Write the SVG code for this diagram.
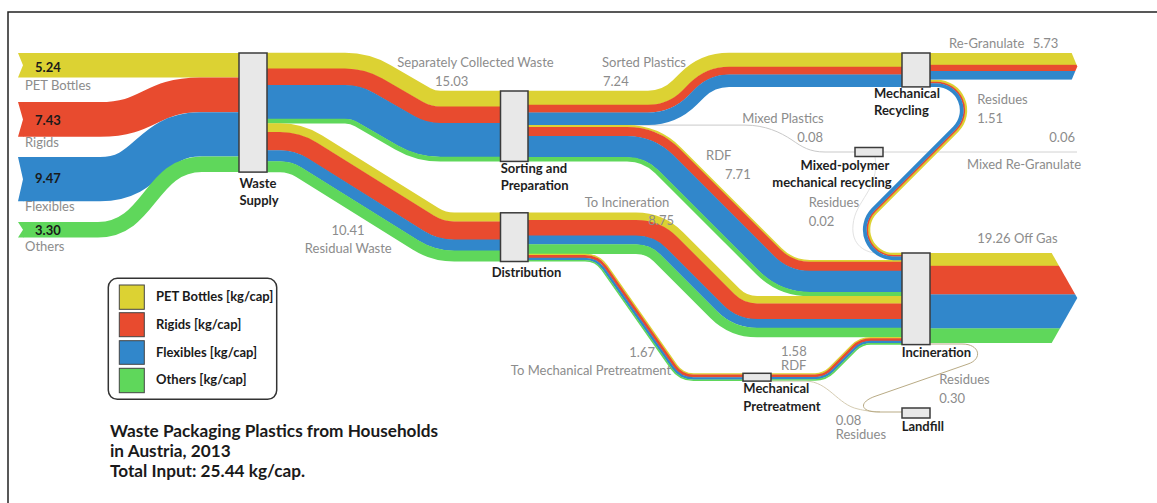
<svg xmlns="http://www.w3.org/2000/svg" width="1157" height="503" viewBox="0 0 1157 503">
<style>
.f{fill:none;stroke-linecap:butt;stroke-linejoin:round}
.y{stroke:#dcd233}.r{stroke:#e84b2f}.b{stroke:#3187cb}.g{stroke:#5fd75b}
.fy{fill:#dcd233}.fr{fill:#e84b2f}.fb{fill:#3187cb}.fg{fill:#5fd75b}
.box{fill:#e8e8e8;stroke:#3b3b3b;stroke-width:1.5}
.lbl{font-family:Lato,'Liberation Sans',sans-serif;font-size:13px;fill:#8c8c8c}
.node{font-family:Lato,'Liberation Sans',sans-serif;font-size:13px;font-weight:bold;fill:#1e1e1e}
.val{font-family:Lato,'Liberation Sans',sans-serif;font-size:13px;font-weight:bold;fill:#1a1a1a}
.thin{fill:none;stroke-width:1}
</style>
<defs>
<clipPath id="cRG"><polygon points="929,53 1071.7,53 1077.3,66.4 1071.7,79.8 929,79.8"/></clipPath>
<clipPath id="cOG"><polygon points="929,253 1051.7,253 1077.3,298.05 1051.7,343.1 929,343.1"/></clipPath>
</defs>
<rect width="1157" height="503" fill="#ffffff"/>
<path d="M8 503 V12 H1157" fill="none" stroke="#222" stroke-width="1.5"/>

<g id="connectors">
 <g id="inputs">
  <polygon class="fy" points="18,53 240,53 240,77.5 18,77.5 23,65.25"/>
  <polygon class="fr" points="18,102 24,102 24,136.8 18,136.8 23,119.4"/>
  <path class="f r" stroke-width="34.8" d="M23.5 119.4 H100 C150 119.4 150 94.9 200 94.9 H240"/>
  <polygon class="fb" points="18,157 24,157 24,201.3 18,201.3 23,179.15"/>
  <path class="f b" stroke-width="44.3" d="M23.5 179.15 H100 C150 179.15 150 134.45 200 134.45 H240"/>
  <polygon class="fg" points="18,222 24,222 24,237.4 18,237.4 23,229.7"/>
  <path class="f g" stroke-width="15.4" d="M23.5 229.7 H98 C150 229.7 150 164.3 202 164.3 H240"/>
 </g>
 <g id="separately-collected">
  <path class="f y" stroke-width="16.1" d="M267 60.85 H345 A82.55 82.55 0 0 1 386.28 71.91 L426.47 95.12 A27.85 27.85 0 0 0 440.4 98.85 H501"/>
  <path class="f r" stroke-width="17" d="M267 77 H345 A66.4 66.4 0 0 1 378.2 85.9 L418.4 109.11 A44 44 0 0 0 440.4 115 H501"/>
  <path class="f b" stroke-width="33.9" d="M267 102.05 H345 A41.35 41.35 0 0 1 365.68 107.59 L405.87 130.8 A69.05 69.05 0 0 0 440.4 140.05 H501"/>
  <path class="f g" stroke-width="4.8" d="M267 121.1 H345 A22.3 22.3 0 0 1 356.15 124.09 L396.35 147.3 A88.1 88.1 0 0 0 440.4 159.1 H501"/>
 </g>
 <g id="residual-waste">
  <path class="f y" stroke-width="9.2" d="M267 127.8 H280 A74.3 74.3 0 0 1 319.37 139.09 L436 211.97 A34.4 34.4 0 0 0 454.23 217.2 H501"/>
  <path class="f r" stroke-width="18.6" d="M267 141.3 H280 A60.8 60.8 0 0 1 312.22 150.54 L428.85 223.42 A47.9 47.9 0 0 0 454.23 230.7 H501"/>
  <path class="f b" stroke-width="11.3" d="M267 155.85 H280 A46.25 46.25 0 0 1 304.51 162.88 L421.14 235.76 A62.45 62.45 0 0 0 454.23 245.25 H501"/>
  <path class="f g" stroke-width="11" d="M267 166.7 H280 A35.4 35.4 0 0 1 298.76 172.08 L415.39 244.96 A73.3 73.3 0 0 0 454.23 256.1 H501"/>
 </g>
 <g id="mixed-plastics">
  <path class="thin" stroke="#c9c9c9" stroke-width="1.2" d="M528 125.1 H745 C765 125.1 780 132 792 140 C802 147 810 152 825 152 H856"/>
 </g>
 <g id="sorted-plastics">
  <path class="f y" stroke-width="14.3" d="M527 97.95 H648 A41.95 41.95 0 0 0 677.66 85.66 L685.23 78.09 A61.95 61.95 0 0 1 729.04 59.95 H903"/>
  <path class="f r" stroke-width="8" d="M527 108.7 H648 A52.7 52.7 0 0 0 685.26 93.26 L692.84 85.7 A51.2 51.2 0 0 1 729.04 70.7 H903"/>
  <path class="f b" stroke-width="12.6" d="M527 118.7 H648 A62.7 62.7 0 0 0 692.34 100.34 L699.91 92.77 A41.2 41.2 0 0 1 729.04 80.7 H903"/>
 </g>
 <g id="rdf-sorting">
  <path class="f y" stroke-width="2.2" d="M527 126.2 H627 A75.2 75.2 0 0 1 680.17 148.23 L780.97 249.02 A40.9 40.9 0 0 0 809.89 261 H903"/>
  <path class="f r" stroke-width="9.4" d="M527 131.6 H627 A69.8 69.8 0 0 1 676.36 152.04 L777.15 252.84 A46.3 46.3 0 0 0 809.89 266.4 H903"/>
  <path class="f b" stroke-width="21.5" d="M527 146.65 H627 A54.75 54.75 0 0 1 665.71 162.69 L766.51 263.48 A61.35 61.35 0 0 0 809.89 281.45 H903"/>
  <path class="f g" stroke-width="4.4" d="M527 159.3 H627 A42.1 42.1 0 0 1 656.77 171.63 L757.56 272.43 A74 74 0 0 0 809.89 294.1 H903"/>
 </g>
 <g id="to-incineration">
  <path class="f y" stroke-width="7.8" d="M527 216.5 H636 A62.3 62.3 0 0 1 680.05 234.75 L736.8 291.49 A28.7 28.7 0 0 0 757.09 299.9 H903"/>
  <path class="f r" stroke-width="16" d="M527 228 H636 A50.8 50.8 0 0 1 671.92 242.88 L728.66 299.63 A40.2 40.2 0 0 0 757.09 311.4 H903"/>
  <path class="f b" stroke-width="9" d="M527 240.1 H636 A38.7 38.7 0 0 1 663.37 251.43 L720.11 308.18 A52.3 52.3 0 0 0 757.09 323.5 H903"/>
  <path class="f g" stroke-width="9.6" d="M527 249.1 H636 A29.7 29.7 0 0 1 657 257.8 L713.74 314.55 A61.3 61.3 0 0 0 757.09 332.5 H903"/>
 </g>
 <g id="to-mech-pretreatment">
  <path class="f y" stroke-width="1.7" d="M527 254.5 H585 A27 27 0 0 1 607.12 266.01 L676.54 365.17 A20.7 20.7 0 0 0 693.5 374 H744"/>
  <path class="f r" stroke-width="2.9" d="M527 256.5 H585 A25 25 0 0 1 605.48 267.16 L674.91 366.32 A22.7 22.7 0 0 0 693.5 376 H744"/>
  <path class="f b" stroke-width="2.6" d="M527 258.95 H585 A22.55 22.55 0 0 1 603.47 268.57 L672.9 367.73 A25.15 25.15 0 0 0 693.5 378.45 H744"/>
  <path class="f g" stroke-width="1.6" d="M527 260.8 H585 A20.7 20.7 0 0 1 601.96 269.63 L671.38 368.79 A27 27 0 0 0 693.5 380.3 H744"/>
 </g>
 <g id="rdf-pretreatment">
  <path class="f y" stroke-width="1.6" d="M770 373.95 H815 A20.65 20.65 0 0 0 829.6 367.9 L851.81 345.68 A26.75 26.75 0 0 1 870.73 337.85 H903"/>
  <path class="f r" stroke-width="2.8" d="M770 375.85 H815 A22.55 22.55 0 0 0 830.95 369.25 L853.16 347.03 A24.85 24.85 0 0 1 870.73 339.75 H903"/>
  <path class="f b" stroke-width="2.5" d="M770 378.2 H815 A24.9 24.9 0 0 0 832.61 370.91 L854.82 348.69 A22.5 22.5 0 0 1 870.73 342.1 H903"/>
  <path class="f g" stroke-width="1.6" d="M770 380 H815 A26.7 26.7 0 0 0 833.88 372.18 L856.09 349.96 A20.7 20.7 0 0 1 870.73 343.9 H903"/>
 </g>
 <g id="mixed-regranulate">
  <path class="thin" stroke="#d2d2d2" d="M883 152 H1077"/>
 </g>
 <g id="mixed-residues">
  <path class="thin" stroke="#e2e2e2" d="M875 156.5 C880 190 855 200 853 225 C851 245 865 253.3 880 253.3 H902"/>
 </g>
 <g id="residues-recycling">
  <path class="f y" stroke-width="2.4" d="M929 80.85 H936.55 A29.45 29.45 0 0 1 957.37 131.12 L876.2 212.31 A24.45 24.45 0 0 0 893.49 254.05 H903"/>
  <path class="f r" stroke-width="1.7" d="M929 82.6 H936.55 A27.7 27.7 0 0 1 956.14 129.89 L874.96 211.07 A26.2 26.2 0 0 0 893.49 255.8 H903"/>
  <path class="f b" stroke-width="3.8" d="M929 85.1 H936.55 A25.2 25.2 0 0 1 954.37 128.12 L873.2 209.31 A28.7 28.7 0 0 0 893.49 258.3 H903"/>
 </g>
 <g id="re-granulate" clip-path="url(#cRG)">
  <rect class="fy" x="929" y="53" width="150" height="12"/>
  <rect class="fr" x="929" y="64.8" width="150" height="6.4"/>
  <rect class="fb" x="929" y="71" width="150" height="8.8"/>
 </g>
 <g id="off-gas" clip-path="url(#cOG)">
  <rect class="fy" x="929" y="253" width="150" height="13"/>
  <rect class="fr" x="929" y="265.8" width="150" height="28.8"/>
  <rect class="fb" x="929" y="294.4" width="150" height="34.2"/>
  <rect class="fg" x="929" y="328.4" width="150" height="14.7"/>
 </g>
 <g id="landfill-flows">
  <path class="thin" stroke="#d5ccb2" d="M771 381.2 H806 C828 381.2 838 405 858 409 C864 410.5 870 411.5 880 411.8"/>
  <path class="thin" stroke="#b9ab85" stroke-width="1.5" d="M929 344 H962 C980 344 983 359 968 364 L876 396 C858 402 860 412 878 412 H903"/>
 </g>
</g>

<g id="node-waste-supply">
 <rect class="box" x="239" y="53" width="28" height="119.1"/>
 <text class="node" x="239.5" y="188.3">Waste</text>
 <text class="node" x="239.5" y="204.5">Supply</text>
</g>
<g id="node-sorting">
 <rect class="box" x="500.5" y="91" width="27.5" height="70.4"/>
 <text class="node" x="500.7" y="173.3">Sorting and</text>
 <text class="node" x="500.7" y="190">Preparation</text>
</g>
<g id="node-distribution">
 <rect class="box" x="500.5" y="212.8" width="27.5" height="48.7"/>
 <text class="node" x="491.7" y="277.3">Distribution</text>
</g>
<g id="node-mech-recycling">
 <rect class="box" x="902" y="53" width="28" height="33.9"/>
 <text class="node" x="874" y="98.3">Mechanical</text>
 <text class="node" x="874" y="115">Recycling</text>
</g>
<g id="node-mixed-polymer">
 <rect class="box" x="855" y="147.5" width="28" height="9"/>
 <text class="node" x="845" y="170" text-anchor="middle">Mixed-polymer</text>
 <text class="node" x="832" y="187" text-anchor="middle">mechanical recycling</text>
</g>
<g id="node-incineration">
 <rect class="box" x="902" y="253" width="28" height="91.6"/>
 <text class="node" x="901.7" y="356.7">Incineration</text>
</g>
<g id="node-mech-pretreatment">
 <rect class="box" x="743" y="373.3" width="28" height="7.8"/>
 <text class="node" x="743.3" y="393.3">Mechanical</text>
 <text class="node" x="743.3" y="410.7">Pretreatment</text>
</g>
<g id="node-landfill">
 <rect class="box" x="902" y="408" width="28" height="10"/>
 <text class="node" x="901.7" y="430.7">Landfill</text>
</g>

<g id="labels">
 <text class="val" x="35" y="72">5.24</text>
 <text class="lbl" x="25" y="90">PET Bottles</text>
 <text class="val" x="35" y="125">7.43</text>
 <text class="lbl" x="25" y="146.5">Rigids</text>
 <text class="val" x="35" y="183">9.47</text>
 <text class="lbl" x="25" y="210.5">Flexibles</text>
 <text class="val" x="35" y="235">3.30</text>
 <text class="lbl" x="25" y="250.5">Others</text>
 <text class="lbl" x="475.5" y="66.7" text-anchor="middle">Separately Collected Waste</text>
 <text class="lbl" x="451.7" y="85.7" text-anchor="middle">15.03</text>
 <text class="lbl" x="348" y="235" text-anchor="middle">10.41</text>
 <text class="lbl" x="348.3" y="253.3" text-anchor="middle">Residual Waste</text>
 <text class="lbl" x="644" y="66.7" text-anchor="middle">Sorted Plastics</text>
 <text class="lbl" x="603" y="85.7">7.24</text>
 <text class="lbl" x="783" y="122.7" text-anchor="middle">Mixed Plastics</text>
 <text class="lbl" x="823" y="141.7" text-anchor="end">0.08</text>
 <text class="lbl" x="706" y="160">RDF</text>
 <text class="lbl" x="725" y="179.3">7.71</text>
 <text class="lbl" x="627" y="206.7" text-anchor="middle">To Incineration</text>
 <text class="lbl" x="674" y="225" text-anchor="end">8.75</text>
 <text class="lbl" x="808.7" y="206.7">Residues</text>
 <text class="lbl" x="808.7" y="226">0.02</text>
 <text class="lbl" x="949" y="48.3">Re-Granulate</text>
 <text class="lbl" x="1032.7" y="48.3">5.73</text>
 <text class="lbl" x="977.3" y="104">Residues</text>
 <text class="lbl" x="977.3" y="123.3">1.51</text>
 <text class="lbl" x="1075" y="141.7" text-anchor="end">0.06</text>
 <text class="lbl" x="1024" y="169.3" text-anchor="middle">Mixed Re-Granulate</text>
 <text class="lbl" x="977.3" y="243.3">19.26</text>
 <text class="lbl" x="1014" y="243.3">Off Gas</text>
 <text class="lbl" x="655" y="356.7" text-anchor="end">1.67</text>
 <text class="lbl" x="591" y="375" text-anchor="middle">To Mechanical Pretreatment</text>
 <text class="lbl" x="781" y="356">1.58</text>
 <text class="lbl" x="781" y="370">RDF</text>
 <text class="lbl" x="939.3" y="384">Residues</text>
 <text class="lbl" x="939.3" y="402.7">0.30</text>
 <text class="lbl" x="835.7" y="425">0.08</text>
 <text class="lbl" x="835.7" y="439.3">Residues</text>
</g>

<g id="legend">
 <rect x="108.3" y="278.3" width="168.4" height="121" rx="9" fill="#fff" stroke="#333" stroke-width="1.5"/>
 <rect class="fy" x="119.3" y="285" width="25" height="24.3" stroke="#444"/>
 <rect class="fr" x="119.3" y="312.7" width="25" height="24" stroke="#444"/>
 <rect class="fb" x="119.3" y="340.7" width="25" height="23.6" stroke="#444"/>
 <rect class="fg" x="119.3" y="368.3" width="25" height="24.4" stroke="#444"/>
 <text class="val" x="156" y="300.7">PET Bottles [kg/cap]</text>
 <text class="val" x="156" y="328.5">Rigids [kg/cap]</text>
 <text class="val" x="156" y="356.7">Flexibles [kg/cap]</text>
 <text class="val" x="156" y="384.3">Others [kg/cap]</text>
</g>

<g id="title" font-family="Lato,'Liberation Sans',sans-serif" font-size="17.2" font-weight="bold" fill="#1a1a1a">
 <text x="110" y="436.7">Waste Packaging Plastics from Households</text>
 <text x="110" y="456.7">in Austria, 2013</text>
 <text x="110" y="476.7">Total Input: 25.44 kg/cap.</text>
</g>
</svg>
